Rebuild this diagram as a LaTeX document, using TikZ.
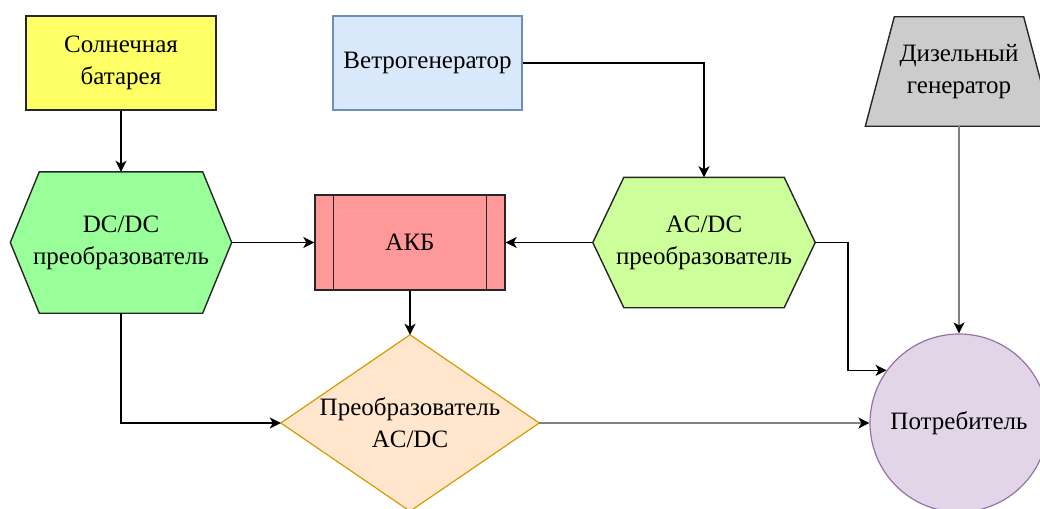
\documentclass[tikz,border=0pt]{standalone}
\usepackage{fontspec}
\setmainfont{Liberation Serif}
\usetikzlibrary{arrows.meta,backgrounds}

\definecolor{solarfill}{HTML}{FFFF66}
\definecolor{windfill}{HTML}{DAE8FC}
\definecolor{windline}{HTML}{6C8EBF}
\definecolor{dieselfill}{HTML}{CCCCCC}
\definecolor{dcfill}{HTML}{99FF99}
\definecolor{acfill}{HTML}{CCFF99}
\definecolor{akbfill}{HTML}{FF9999}
\definecolor{convfill}{HTML}{FFE6CC}
\definecolor{convline}{HTML}{D79B00}
\definecolor{userfill}{HTML}{E1D5E7}
\definecolor{userline}{HTML}{9673A6}
\definecolor{linegray}{HTML}{808080}

\tikzset{
  box/.style={draw=black!85, line width=1.4pt, align=center, inner sep=0pt,
    minimum width=190pt, minimum height=94pt},
  shapebox/.style={align=center, inner sep=0pt},
  outline/.style={draw=black!85, line width=1.4pt},
  arr/.style={line width=1.5pt, -{Stealth[length=11pt,width=11pt,inset=3pt]}},
  grayarr/.style={line width=1.5pt, draw=linegray,
    -{Stealth[length=11pt,width=11pt,inset=3pt,black]}},
}

\begin{document}
\begin{tikzpicture}[x=1pt, y=-1pt, font=\fontsize{25}{32}\selectfont]
\useasboundingbox (0,0) rectangle (1040,508);

% sources
\node[box, fill=solarfill] (solar) at (121,63) {Солнечная\\батарея};
\node[box, fill=windfill, draw=windline, minimum width=189pt] (wind) at (427.5,63) {Ветрогенератор};
\node[shapebox, minimum width=187pt, minimum height=109pt] (diesel) at (959,71.5) {Дизельный\\генератор};

% converters and battery
\node[shapebox, minimum width=221pt, minimum height=141pt] (dcdc) at (121,242.5) {DC/DC\\преобразователь};
\node[box, fill=akbfill, minimum height=95pt] (akb) at (410,242.5) {АКБ};
\node[shapebox, minimum width=222pt, minimum height=130pt] (acdc) at (704,242.5) {AC/DC\\преобразователь};
\node[shapebox, minimum width=258pt, minimum height=176pt] (conv) at (410,423) {Преобразователь\\AC/DC};

% load
\node[circle, draw=userline, line width=1.2pt, fill=userfill, inner sep=0pt, minimum size=178pt] (user) at (959,423) {Потребитель};

\begin{scope}[on background layer]
\draw[outline, fill=dieselfill] ([xshift=29pt]diesel.north west) -- ([xshift=-29pt]diesel.north east)
  -- (diesel.south east) -- (diesel.south west) -- cycle;
\draw[outline, fill=dcfill] (dcdc.west) -- ([xshift=29pt]dcdc.north west) -- ([xshift=-29pt]dcdc.north east)
  -- (dcdc.east) -- ([xshift=-29pt]dcdc.south east) -- ([xshift=29pt]dcdc.south west) -- cycle;
\draw[outline, fill=acfill] (acdc.west) -- ([xshift=31pt]acdc.north west) -- ([xshift=-31pt]acdc.north east)
  -- (acdc.east) -- ([xshift=-31pt]acdc.south east) -- ([xshift=31pt]acdc.south west) -- cycle;
\draw[outline, fill=convfill, draw=convline, line width=1.2pt] (conv.north) -- (conv.east) -- (conv.south) -- (conv.west) -- cycle;
\end{scope}
\draw[outline] ([xshift=19pt]akb.north west) -- ([xshift=19pt]akb.south west);
\draw[outline] ([xshift=-19pt]akb.north east) -- ([xshift=-19pt]akb.south east);

% connectors
\draw[arr] (solar.south) -- (dcdc.north);
\draw[arr] (dcdc.east) -- (akb.west);
\draw[arr] (acdc.west) -- (akb.east);
\draw[arr] (wind.east) -| (acdc.north);
\draw[arr] (akb.south) -- (conv.north);
\draw[arr] (dcdc.south) |- (conv.west);
\draw[arr] (acdc.east) -- ++(33,0) |- (user.144);
\draw[grayarr] (diesel.south) -- (user.north);
\draw[grayarr] (conv.east) -- (user.west);
\end{tikzpicture}
\end{document}
